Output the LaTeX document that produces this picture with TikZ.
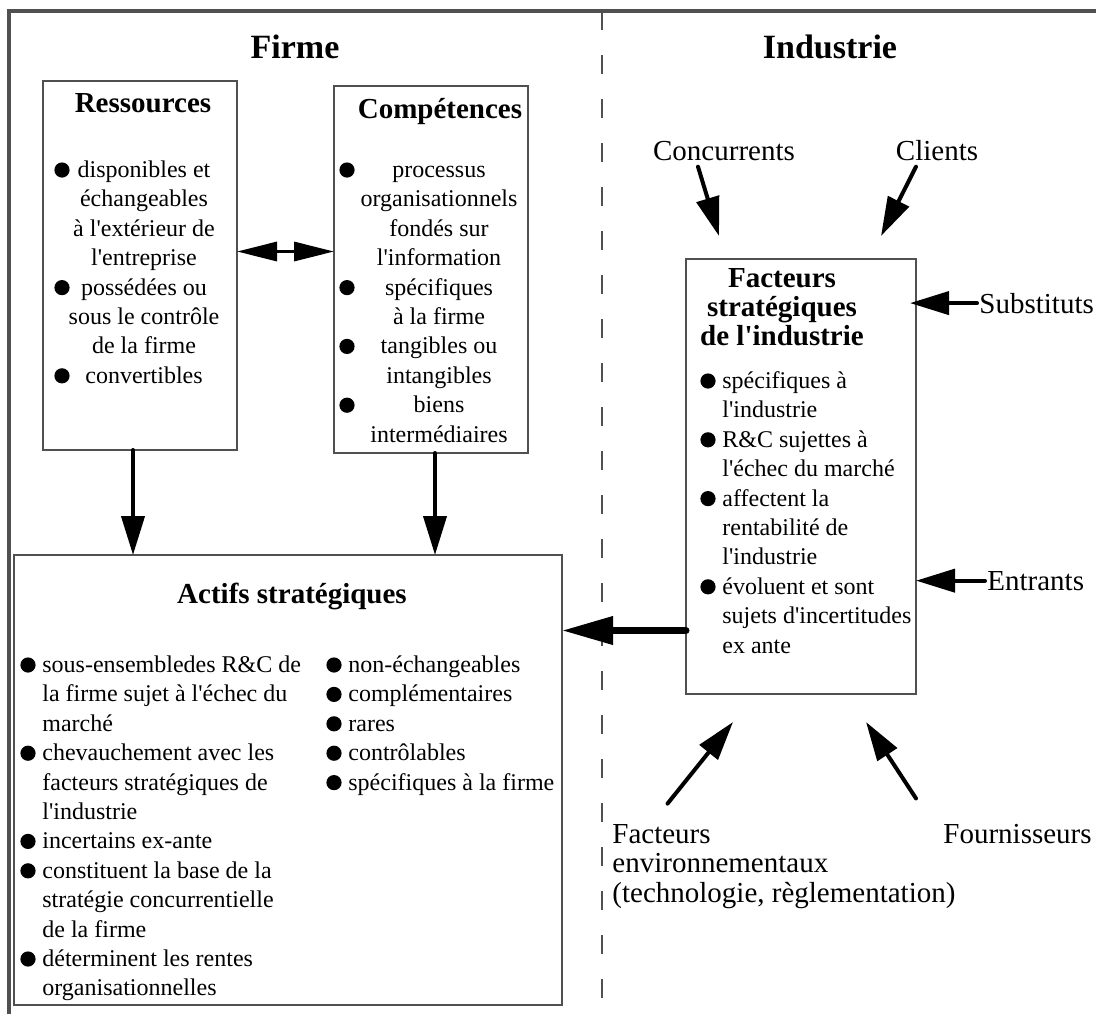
\documentclass[tikz,border=0pt]{standalone}
\usepackage{fontspec}
\setmainfont{Liberation Serif}[Ligatures=TeXOff]
\usepackage{tikz}
\usetikzlibrary{arrows.meta,positioning,calc}
\definecolor{mygray}{RGB}{80,80,80}

\begin{document}
\begin{tikzpicture}[
  x=0.5pt,
  y=-0.5pt,
  myframe/.style={
    draw=mygray,
    line width=1.6pt
    },
  mydashline/.style={
    draw=mygray,
    line width=1.3pt,
    dash pattern=on 9.5pt off 12.5pt
    },
  mybox/.style={
    draw=mygray,
    line width=1pt,
    anchor=north west,
    inner sep=0pt,
    outer sep=0pt
    },
  mybigtitle/.style={
    anchor=base,
    inner sep=0pt,
    font=\fontsize{17}{20}\selectfont\bfseries
    },
  mytitle/.style={
    anchor=base,
    inner sep=0pt,
    font=\fontsize{14.5}{17}\selectfont\bfseries
    },
  mytext/.style={
    inner sep=0pt,
    font=\fontsize{12}{14}\selectfont
    },
  mylabel/.style={
    inner sep=1pt,
    font=\fontsize{14.5}{17}\selectfont
    },
  mybullet/.style={
    fill=black
    },
  myarrow/.style={
    -{Triangle[length=19.5pt,width=11.5pt]},
    line width=2pt,
    line cap=round
    },
  mydoublearrow/.style={
    {Triangle[length=20pt,width=9.5pt]}-{Triangle[length=20pt,width=9.5pt]},
    line width=1.6pt
    },
  mybigarrow/.style={
    -{Triangle[length=25.5pt,width=13.5pt]},
    line width=3.5pt,
    line cap=round
    }
]

\useasboundingbox (0,0) rectangle (1096,1014);
\draw[myframe] (9,1014) -- (9,11) -- (1096,11);
\draw[mydashline] (602,11) -- (602,1014);

\node[mybigtitle] (firme) at (295,58) {Firme};
\node[mybigtitle] (industrie) at (830,58) {Industrie};

\node[mybox, minimum width=97pt, minimum height=184.5pt] (res) at (43,81) {};
\node[mybox, minimum width=97pt, minimum height=183.5pt] (comp) at (334,86) {};
\node[mybox, minimum width=274pt, minimum height=225pt] (actifs) at (14,555) {};
\node[mybox, minimum width=115pt, minimum height=217.5pt] (fact) at (686,259) {};

\node[mytitle] (res-titre) at (143,112) {Ressources};
\node[mytitle] (comp-titre) at (440,118) {Compétences};
\node[mytitle] (actifs-titre) at (292,603) {Actifs stratégiques};
\foreach \ligne [count=\i from 0] in {Facteurs,stratégiques,de l'industrie}
  \node[mytitle] (fact-titre-\i) at (782,{287+29*\i}) {\ligne};

\foreach \ligne [count=\i from 0] in {disponibles et,échangeables,à l'extérieur de,l'entreprise,possédées ou,sous le contrôle,de la firme,convertibles}
  \node[mytext, anchor=base] (res-\i) at (144,{177.5+29.4*\i}) {\ligne};
\foreach \k in {0,4,7}
  \fill[mybullet] (62,{170+29.4*\k}) circle (3.8pt);

\foreach \ligne [count=\i from 0] in {processus,organisationnels,fondés sur,l'information,spécifiques,à la firme,tangibles ou,intangibles,biens,intermédiaires}
  \node[mytext, anchor=base] (comp-\i) at (439,{177.5+29.4*\i}) {\ligne};
\foreach \k in {0,4,6,8}
  \fill[mybullet] (347,{170+29.4*\k}) circle (3.8pt);

\foreach \ligne [count=\i from 0] in {spécifiques à,l'industrie,R\&C sujettes à,l'échec du marché,affectent la,rentabilité de,l'industrie,évoluent et sont,sujets d'incertitudes,ex ante}
  \node[mytext, anchor=base west] (fact-\i) at (722,{388.5+29.4*\i}) {\ligne};
\foreach \k in {0,2,4,7}
  \fill[mybullet] (708,{381+29.4*\k}) circle (3.8pt);

\foreach \ligne [count=\i from 0] in {sous-ensembledes R\&C de,la firme sujet à l'échec du,marché,chevauchement avec les,facteurs stratégiques de,l'industrie,incertains ex-ante,constituent la base de la,stratégie concurrentielle,de la firme,déterminent les rentes,organisationnelles}
  \node[mytext, anchor=base west] (actifs-g-\i) at (42,{672.5+29.4*\i}) {\ligne};
\foreach \k in {0,3,6,7,10}
  \fill[mybullet] (28,{665+29.4*\k}) circle (3.8pt);

\foreach \ligne [count=\i from 0] in {non-échangeables,complémentaires,rares,contrôlables,spécifiques à la firme}
  \node[mytext, anchor=base west] (actifs-d-\i) at (348,{672.5+29.4*\i}) {\ligne};
\foreach \k in {0,...,4}
  \fill[mybullet] (334,{665+29.4*\k}) circle (3.8pt);

\node[mylabel, anchor=base] (conc) at (724,160) {Concurrents};
\node[mylabel, anchor=base] (cli) at (937,160) {Clients};
\node[mylabel, anchor=base west] (subst) at (977,313) {Substituts};
\node[mylabel, anchor=base west] (entr) at (985,590) {Entrants};
\foreach \ligne [count=\i from 0] in {Facteurs,environnementaux,{(technologie, règlementation)}}
  \node[mylabel, anchor=base west] (env-\i) at (610,{843+29.5*\i}) {\ligne};
\node[mylabel, anchor=base west] (fourn) at (941,843) {Fournisseurs};

\coordinate (conc-fin) at (719,236);
\coordinate (cli-fin) at (881,236);
\coordinate (env-fin) at (733,722);
\coordinate (fourn-fin) at (866,722);

\draw[myarrow] ([xshift=-13pt,yshift=-2pt]conc.south) -- (conc-fin);
\draw[myarrow] ([xshift=-10.5pt,yshift=-2pt]cli.south) -- (cli-fin);
\draw[myarrow, shorten >=-3pt] (subst.west) -- (subst.west -| fact.east);
\draw[myarrow] (entr.west) -- (entr.west -| fact.east);
\draw[myarrow] ([xshift=3pt,yshift=9pt]env-0.north) -- (env-fin);
\draw[myarrow] ([xshift=-12.5pt,yshift=11.5pt]fourn.north west) -- (fourn-fin);

\draw[myarrow] ([xshift=-3.5pt]res.south) -- ([xshift=-3.5pt]res.south |- actifs.north);
\draw[myarrow] ([xshift=2pt]comp.south) -- ([xshift=2pt]comp.south |- actifs.north);
\draw[mydoublearrow] ([yshift=7pt]res.east) -- ([yshift=7pt]res.east -| comp.west);
\draw[mybigarrow] ([yshift=-77pt]fact.west) -- ([yshift=-77pt]fact.west -| actifs.east);

\end{tikzpicture}
\end{document}
